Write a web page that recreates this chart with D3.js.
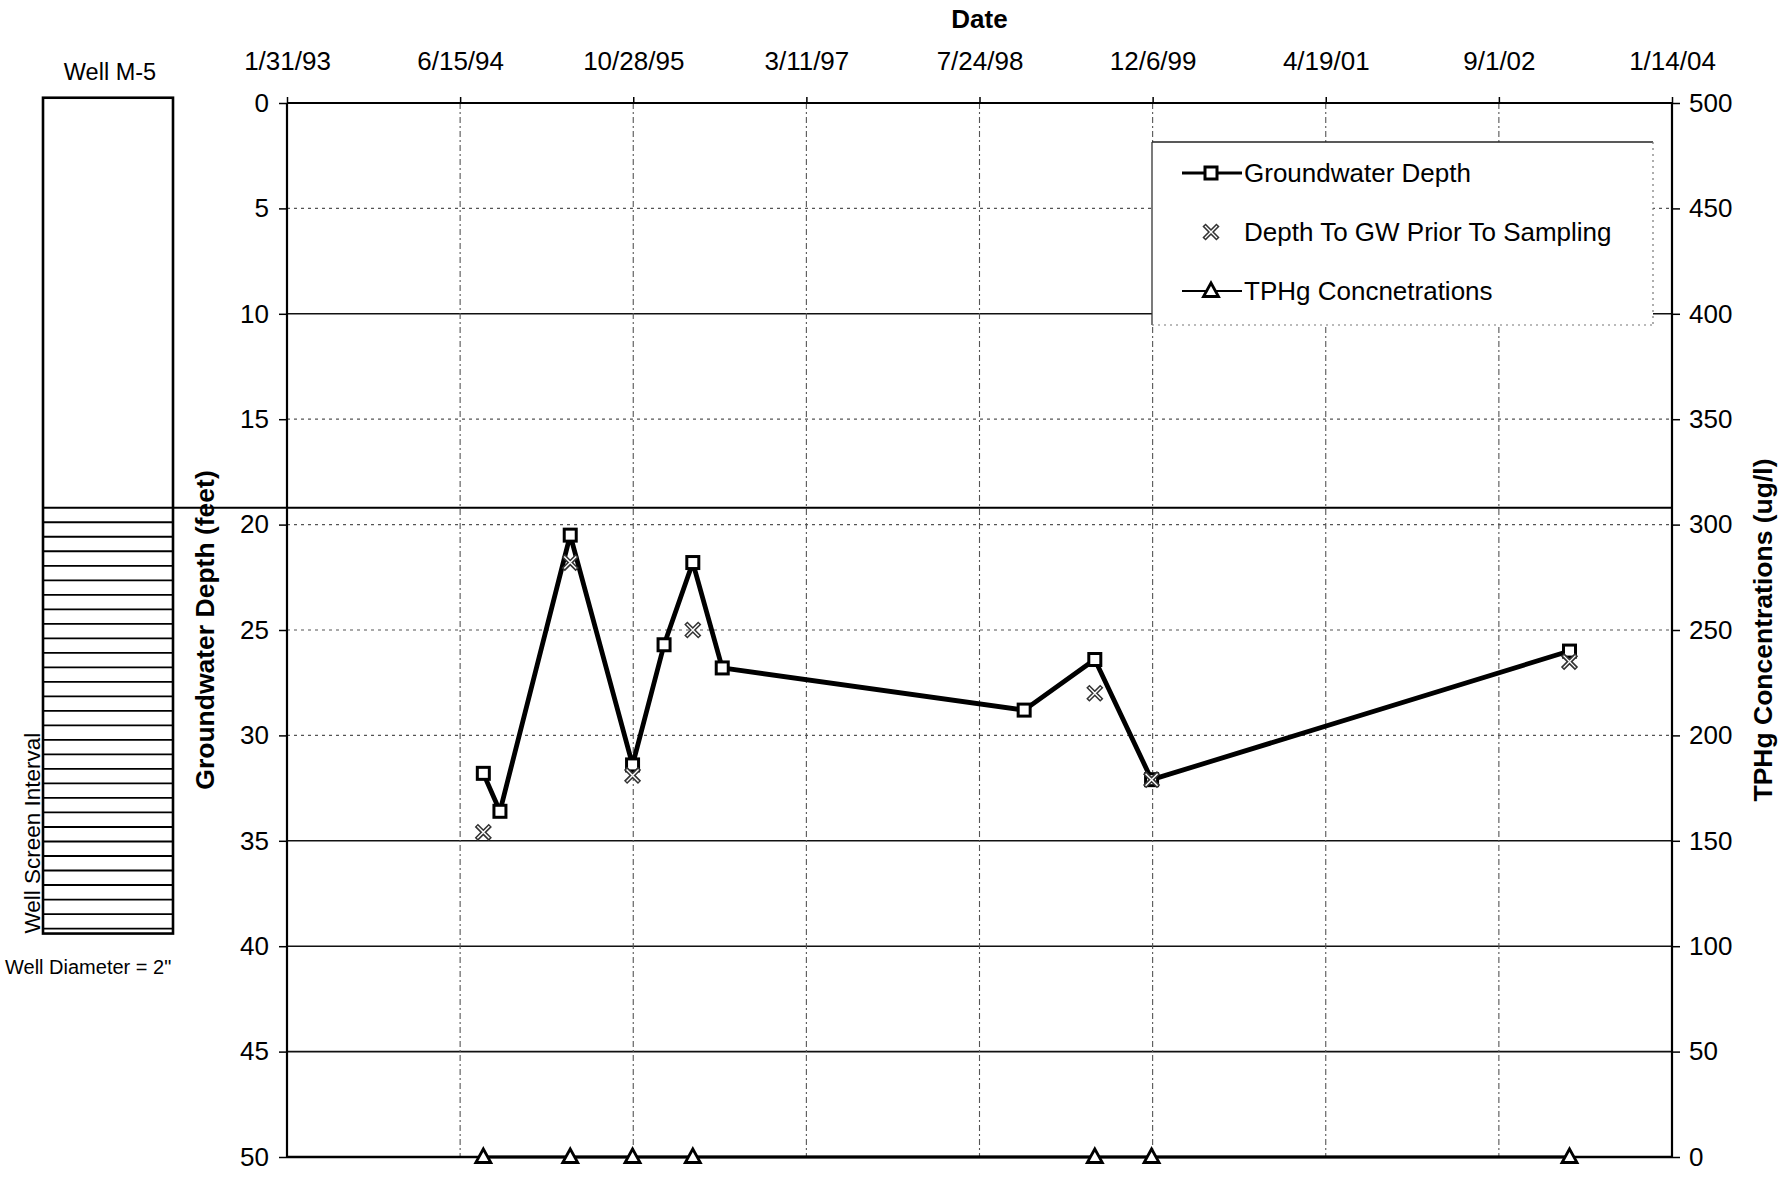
<!DOCTYPE html>
<html>
<head>
<meta charset="utf-8">
<script src="https://cdn.jsdelivr.net/npm/d3@7"></script>
<style>
  html, body { margin: 0; padding: 0; background: #fff; }
  svg { display: block; font-family: "Liberation Sans", Arial, sans-serif; }
</style>
</head>
<body>
<svg id="chart" width="1788" height="1178"></svg>
<script>
// Well M-5 hydrograph: depth to groundwater (left axis) and TPHg (right axis)

// Date axis tick labels (500-day steps)
const dateTicks = ["1/31/93", "6/15/94", "10/28/95", "3/11/97", "7/24/98", "12/6/99", "4/19/01", "9/1/02", "1/14/04"];
const depthTicks = [0, 5, 10, 15, 20, 25, 30, 35, 40, 45, 50];
const tphTicks = [0, 50, 100, 150, 200, 250, 300, 350, 400, 450, 500];

// Groundwater depth monitoring (feet below grade)
const gwDates = ["8/21/94", "10/8/94", "4/29/95", "10/26/95", "1/25/96", "4/17/96", "7/11/96", "11/30/98", "6/22/99", "12/3/99", "3/24/03"];
const gwDepth = [31.8, 33.6, 20.5, 31.4, 25.7, 21.8, 26.8, 28.8, 26.4, 32.1, 26.0];

// Depth to groundwater measured just before sampling
const sampleDates = ["8/21/94", "4/29/95", "10/26/95", "4/17/96", "6/22/99", "12/3/99", "3/24/03"];
const sampleDepth = [34.6, 21.8, 31.9, 25.0, 28.0, 32.1, 26.5];

// TPHg concentrations (ug/l) on the sampling dates
const tphgDates = ["8/21/94", "4/29/95", "10/26/95", "4/17/96", "6/22/99", "12/3/99", "3/24/03"];
const tphg = [0, 0, 0, 0, 0, 0, 0];

// Well construction (feet below grade)
const wellTop = -0.25;
const screenTop = 19.2;
const wellBottom = 39.4;
const screenSlats = 29;

const parse = d3.utcParse("%m/%d/%y");
const fmt = d => `${d.getUTCMonth() + 1}/${d.getUTCDate()}/${String(d.getUTCFullYear()).slice(2)}`;

const svg = d3.select("#chart");
const L = 287, R = 1672, T = 103, B = 1157;

const x = d3.scaleUtc()
  .domain([parse(dateTicks[0]), parse(dateTicks[dateTicks.length - 1])])
  .range([L, R]);
const yDepth = d3.scaleLinear().domain([0, 50]).range([T, B]);
const yTph = d3.scaleLinear().domain([0, 500]).range([B, T]);

svg.append("rect").attr("width", 1788).attr("height", 1178).attr("fill", "#fff");

// ---- gridlines ----
const dottedDepths = new Set([5, 15, 20, 25, 30]);
const grid = svg.append("g");
grid.selectAll("line.h")
  .data(depthTicks.filter(d => d > 0 && d < 50))
  .join("line")
  .attr("x1", L).attr("x2", R)
  .attr("y1", d => yDepth(d)).attr("y2", d => yDepth(d))
  .attr("stroke", d => dottedDepths.has(d) ? "#555" : "#111")
  .attr("stroke-width", d => dottedDepths.has(d) ? 1.2 : 1.6)
  .attr("stroke-dasharray", d => dottedDepths.has(d) ? "3,4" : null);

grid.selectAll("line.v")
  .data(dateTicks.slice(1, -1).map(parse))
  .join("line")
  .attr("x1", d => x(d)).attr("x2", d => x(d))
  .attr("y1", T).attr("y2", B)
  .attr("stroke", "#555")
  .attr("stroke-width", 1.1)
  .attr("stroke-dasharray", "6,3,2,3");

// ---- axes ----
const axisStyle = g => {
  g.selectAll("text").attr("font-size", 26).attr("fill", "#000");
  g.selectAll("line").attr("stroke", "#000").attr("stroke-width", 1.5);
  g.select(".domain").remove();
};

svg.append("g")
  .attr("transform", `translate(${L},0)`)
  .call(d3.axisLeft(yDepth).tickValues(depthTicks).tickSize(8).tickPadding(10))
  .call(axisStyle);

svg.append("g")
  .attr("transform", `translate(${R},0)`)
  .call(d3.axisRight(yTph).tickValues(tphTicks).tickSize(8).tickPadding(9))
  .call(axisStyle);

svg.append("g")
  .attr("transform", `translate(0,${T})`)
  .call(d3.axisTop(x).tickValues(dateTicks.map(parse)).tickFormat(fmt).tickSize(6).tickPadding(27))
  .call(axisStyle);

// plot frame
svg.append("line").attr("x1", L).attr("x2", L).attr("y1", T).attr("y2", B).attr("stroke", "#000").attr("stroke-width", 2.2);
svg.append("line").attr("x1", R).attr("x2", R).attr("y1", T).attr("y2", B).attr("stroke", "#000").attr("stroke-width", 2.2);
svg.append("line").attr("x1", L).attr("x2", R).attr("y1", T).attr("y2", T).attr("stroke", "#000").attr("stroke-width", 2.2);
svg.append("line").attr("x1", L).attr("x2", R).attr("y1", B).attr("y2", B).attr("stroke", "#000").attr("stroke-width", 2.6);

// ---- axis titles ----
svg.append("text")
  .attr("x", (L + R) / 2).attr("y", 28)
  .attr("text-anchor", "middle").attr("font-size", 26).attr("font-weight", "bold")
  .text("Date");

svg.append("text")
  .attr("transform", `translate(214,${(T + B) / 2}) rotate(-90)`)
  .attr("text-anchor", "middle").attr("font-size", 26.5).attr("font-weight", "bold")
  .text("Groundwater Depth (feet)");

svg.append("text")
  .attr("transform", `translate(1772,${(T + B) / 2}) rotate(-90)`)
  .attr("text-anchor", "middle").attr("font-size", 26.5).attr("font-weight", "bold")
  .text("TPHg Concentrations (ug/l)");

// ---- well construction column ----
const well = svg.append("g");
const wx0 = 43, wx1 = 173;
well.append("text")
  .attr("x", (wx0 + wx1) / 2 + 2).attr("y", 80)
  .attr("text-anchor", "middle").attr("font-size", 23.5)
  .text("Well M-5");

const ySt = yDepth(screenTop), yWb = yDepth(wellBottom);
const slatStep = (yWb - ySt - 5) / screenSlats;
well.selectAll("line.slat")
  .data(d3.range(1, screenSlats + 1))
  .join("line")
  .attr("x1", wx0).attr("x2", wx1)
  .attr("y1", i => ySt + i * slatStep).attr("y2", i => ySt + i * slatStep)
  .attr("stroke", "#000").attr("stroke-width", 1.8);

well.append("rect")
  .attr("x", wx0).attr("y", yDepth(wellTop))
  .attr("width", wx1 - wx0).attr("height", yWb - yDepth(wellTop))
  .attr("fill", "none").attr("stroke", "#000").attr("stroke-width", 2.6);

// top of screen, carried across the chart
well.append("line")
  .attr("x1", wx0).attr("x2", R)
  .attr("y1", ySt).attr("y2", ySt)
  .attr("stroke", "#000").attr("stroke-width", 2);

well.append("text")
  .attr("transform", `translate(40,${yWb}) rotate(-90)`)
  .attr("font-size", 22.5)
  .text("Well Screen Interval");

well.append("text")
  .attr("x", 5).attr("y", yWb + 40)
  .attr("font-size", 20)
  .text("Well Diameter = 2\"");

// ---- legend ----
const lg = svg.append("g");
const lx0 = 1152, lx1 = 1653, ly0 = 142, ly1 = 325;
lg.append("rect").attr("x", lx0).attr("y", ly0).attr("width", lx1 - lx0).attr("height", ly1 - ly0).attr("fill", "#fff");
lg.append("line").attr("x1", lx0).attr("x2", lx1).attr("y1", ly0).attr("y2", ly0).attr("stroke", "#222").attr("stroke-width", 1.6);
lg.append("line").attr("x1", lx0).attr("x2", lx0).attr("y1", ly0).attr("y2", ly1).attr("stroke", "#333").attr("stroke-width", 1.3);
lg.append("line").attr("x1", lx1).attr("x2", lx1).attr("y1", ly0).attr("y2", ly1).attr("stroke", "#777").attr("stroke-width", 1.2).attr("stroke-dasharray", "2,4");
lg.append("line").attr("x1", lx0).attr("x2", lx1).attr("y1", ly1).attr("y2", ly1).attr("stroke", "#777").attr("stroke-width", 1.2).attr("stroke-dasharray", "2,4");

// ---- marker shapes ----
const square = (g, size) => g.append("rect")
  .attr("x", -size / 2).attr("y", -size / 2).attr("width", size).attr("height", size)
  .attr("fill", "#fff").attr("stroke", "#000").attr("stroke-width", 3);
const cross = g => {
  g.append("path").attr("d", "M-7,-7L7,7M-7,7L7,-7").attr("stroke", "#333").attr("stroke-width", 4.5);
  g.append("path").attr("d", "M-6,-6L6,6M-6,6L6,-6").attr("stroke", "#fff").attr("stroke-width", 1.4);
};
const triangle = g => g.append("path")
  .attr("d", "M0,-8L7.5,5.5L-7.5,5.5Z")
  .attr("fill", "#fff").attr("stroke", "#000").attr("stroke-width", 2.8).attr("stroke-linejoin", "miter");

const legendRows = [
  { label: "Groundwater Depth", y: 173, line: 3, marker: g => square(g, 12) },
  { label: "Depth To GW Prior To Sampling", y: 232, line: 0, marker: cross },
  { label: "TPHg Concnetrations", y: 291, line: 2, marker: triangle }
];
legendRows.forEach(r => {
  if (r.line) lg.append("line").attr("x1", 1182).attr("x2", 1242).attr("y1", r.y).attr("y2", r.y).attr("stroke", "#000").attr("stroke-width", r.line);
  r.marker(lg.append("g").attr("transform", `translate(1211,${r.y})`));
  lg.append("text").attr("x", 1244).attr("y", r.y).attr("dy", "0.35em").attr("font-size", 26).text(r.label);
});

// ---- series ----
const gw = gwDates.map((d, i) => ({ date: parse(d), v: gwDepth[i] }));
const smp = sampleDates.map((d, i) => ({ date: parse(d), v: sampleDepth[i] }));
const tp = tphgDates.map((d, i) => ({ date: parse(d), v: tphg[i] }));

// TPHg line
svg.append("path")
  .datum(tp)
  .attr("d", d3.line().x(d => x(d.date)).y(d => yTph(d.v)))
  .attr("fill", "none").attr("stroke", "#000").attr("stroke-width", 3);

// Groundwater depth line
svg.append("path")
  .datum(gw)
  .attr("d", d3.line().x(d => x(d.date)).y(d => yDepth(d.v)))
  .attr("fill", "none").attr("stroke", "#000").attr("stroke-width", 4.8).attr("stroke-linejoin", "round");

svg.append("g").selectAll("g")
  .data(gw)
  .join("g")
  .attr("transform", d => `translate(${x(d.date)},${yDepth(d.v)})`)
  .each(function () { square(d3.select(this), 12); });

svg.append("g").selectAll("g")
  .data(smp)
  .join("g")
  .attr("transform", d => `translate(${x(d.date)},${yDepth(d.v)})`)
  .each(function () { cross(d3.select(this)); });

svg.append("g").selectAll("g")
  .data(tp)
  .join("g")
  .attr("transform", d => `translate(${x(d.date)},${yTph(d.v)})`)
  .each(function () { triangle(d3.select(this)); });
</script>
</body>
</html>
